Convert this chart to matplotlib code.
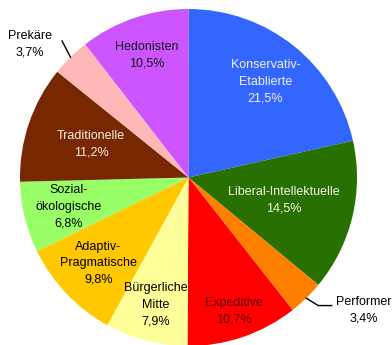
import numpy as np
import matplotlib
matplotlib.use("Agg")
import matplotlib.pyplot as plt

plt.rcParams["font.family"] = ["Liberation Sans", "DejaVu Sans"]

# Sinus-Milieus, shares in percent (clockwise from 12 o'clock)
milieus = ["Konservativ-\nEtablierte", "Liberal-Intellektuelle", "Performer", "Expeditive",
           "Bürgerliche\nMitte", "Adaptiv-\nPragmatische", "Sozial-\nökologische",
           "Traditionelle", "Prekäre", "Hedonisten"]
shares = [21.5, 14.5, 3.4, 10.7, 7.9, 9.8, 6.8, 11.2, 3.7, 10.5]
colors = ["#3366FF", "#287000", "#FF8000", "#FF0000", "#FFFF99",
          "#FFC800", "#99FF66", "#772800", "#FFB8B8", "#CC55FF"]
text_colors = ["#F0F0F8", "#F0F0E8", "black", "#600000", "black",
               "black", "black", "#F4ECE4", "black", "#1A1A1A"]
label_r = [0.73, 0.58, None, 0.84, 0.78, 0.74, 0.73, 0.61, None, 0.77]

fig = plt.figure(figsize=(3.92, 3.45), dpi=100)
ax = fig.add_axes([20 / 392, -1 / 345, 337 / 392, 337 / 345])

wedges, _ = ax.pie(shares, colors=colors, startangle=90, counterclock=False,
                   radius=1.0, wedgeprops=dict(linewidth=0))
ax.set_xlim(-1, 1)
ax.set_ylim(-1, 1)
ax.set_aspect("equal")
ax.axis("off")

def fmt(v):
    return f"{v:.1f}%".replace(".", ",")

for w, name, v, tc, r in zip(wedges, milieus, shares, text_colors, label_r):
    mid = np.deg2rad((w.theta1 + w.theta2) / 2)
    if r is not None:
        ax.text(r * np.cos(mid), r * np.sin(mid), f"{name}\n{fmt(v)}",
                ha="center", va="center", fontsize=9, color=tc, linespacing=1.5)
    else:
        ex, ey = np.cos(mid), np.sin(mid)
        if name == "Performer":
            ax.plot([ex, 0.77, 0.85], [ey, -0.76, -0.76], color="black", lw=1,
                    clip_on=False)
            ax.text(1.04, -0.79, f"{name}\n{fmt(v)}", ha="center", va="center",
                    fontsize=9, linespacing=1.5, clip_on=False)
        else:
            ax.plot([ex, -0.75], [ey, 0.81], color="black", lw=1, clip_on=False)
            ax.text(-0.94, 0.79, f"{name}\n{fmt(v)}", ha="center", va="center",
                    fontsize=9, linespacing=1.5, clip_on=False)

fig.savefig("out.png", dpi=100)
